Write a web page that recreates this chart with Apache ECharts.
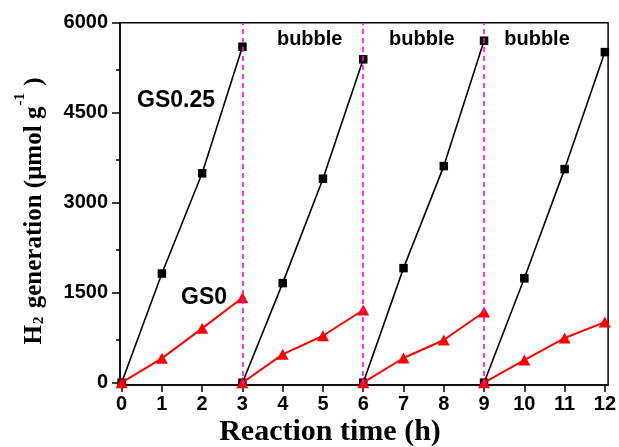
<!DOCTYPE html>
<html><head><meta charset="utf-8">
<script src="https://cdn.jsdelivr.net/npm/echarts@6/dist/echarts.min.js"></script>
<style>html,body{margin:0;padding:0;background:#fff}#c{width:619px;height:447px}</style>
</head><body><div id="c"></div>
<script>
const hourTicks = [0,1,2,3,4,5,6,7,8,9,10,11,12];
const cycleHours = [[0,1,2,3],[3,4,5,6],[6,7,8,9],[9,10,11,12]];
const gs025 = [[0,1820,3490,5600],[0,1660,3400,5390],[0,1910,3610,5700],[0,1740,3560,5510]];
const gs0 = [[0,406,906,1417],[0,473,783,1212],[0,412,712,1178],[0,378,745,1010]];
const bubbleTimes = [3,6,9];
const yTicks = [0,1500,3000,4500,6000];

const chart = echarts.init(document.getElementById('c'));
const series = [];
cycleHours.forEach((hs, i) => {
  series.push({
    type:'line', name:'GS0.25', data: hs.map((h,j)=>[h, gs025[i][j]]),
    symbol:'rect', symbolSize:8.5, itemStyle:{color:'#000'}, lineStyle:{color:'#000', width:1.6},
    z:2, animation:false
  });
});
cycleHours.forEach((hs, i) => {
  series.push({
    type:'line', name:'GS0', data: hs.map((h,j)=>[h, gs0[i][j]]),
    symbol:'triangle', symbolSize:[12,11], itemStyle:{color:'#ff0000'}, lineStyle:{color:'#ff0000', width:2},
    z:3, animation:false
  });
});
series.push({
  type:'line', data:[], z:4, animation:false,
  markLine:{symbol:'none', silent:true, label:{show:false},
    lineStyle:{color:'#ff00ff', type:[5,4], width:1.6},
    data: bubbleTimes.map(t=>({xAxis:t}))}
});

const tickFont = {fontFamily:'Liberation Sans, Arial', fontWeight:'bold', fontSize:20, color:'#000'};
chart.setOption({
  animation:false,
  grid:{left:120, right:7.3, top:22.7, bottom:62, show:true, borderColor:'#000', borderWidth:1.5, containLabel:false},
  xAxis:[{
    type:'value', min:-0.04, max:12.08,
    axisLine:{show:true, onZero:false, lineStyle:{color:'#000', width:1.5}},
    axisTick:{show:true, inside:false, length:7, customValues:hourTicks, lineStyle:{color:'#000', width:1.5}},
    axisLabel:{show:true, customValues:hourTicks, margin:9, formatter:v=>String(v), ...tickFont},
    splitLine:{show:false}
  }],
  yAxis:[{
    type:'value', min:-38, max:6000, interval:1500,
    axisLine:{show:true, onZero:false, lineStyle:{color:'#000', width:1.5}},
    axisTick:{show:true, length:8, customValues:yTicks, lineStyle:{color:'#000', width:1.5}},
    minorTick:{show:true, splitNumber:2, length:4, lineStyle:{color:'#000', width:1.5}},
    axisLabel:{show:true, customValues:yTicks, margin:12, formatter:v=>String(v), ...tickFont},
    splitLine:{show:false}, minorSplitLine:{show:false}
  }],
  series: series,
  graphic:[
    {type:'text', style:{text:'bubble', x:309.7, y:39, align:'center', verticalAlign:'middle', font:'bold 20px "Liberation Sans", Arial', fill:'#000'}},
    {type:'text', style:{text:'bubble', x:421.8, y:39, align:'center', verticalAlign:'middle', font:'bold 20px "Liberation Sans", Arial', fill:'#000'}},
    {type:'text', style:{text:'bubble', x:537, y:39, align:'center', verticalAlign:'middle', font:'bold 20px "Liberation Sans", Arial', fill:'#000'}},
    {type:'text', style:{text:'GS0.25', x:176, y:101, align:'center', verticalAlign:'middle', font:'bold 23px "Liberation Sans", Arial', fill:'#000'}},
    {type:'text', style:{text:'GS0', x:204, y:298, align:'center', verticalAlign:'middle', font:'bold 23px "Liberation Sans", Arial', fill:'#000'}},
    {type:'text', style:{text:'Reaction time (h)', x:330, y:432, align:'center', verticalAlign:'middle', font:'bold 30px "Liberation Serif", "Times New Roman", serif', fill:'#000'}},
    {type:'text', x:30, y:211, rotation:Math.PI/2,
     style:{text:'{b|H}{s|2}{b| generation (}{b|μmol g}{p|-1}{b| )}', align:'center', verticalAlign:'middle',
       rich:{
         b:{font:'bold 25px "Liberation Serif", "Times New Roman", serif', fill:'#000', verticalAlign:'bottom', lineHeight:28},
         s:{font:'bold 15px "Liberation Serif", "Times New Roman", serif', fill:'#000', verticalAlign:'bottom', lineHeight:22, padding:[0,2,0,1]},
         p:{font:'bold 15px "Liberation Serif", "Times New Roman", serif', fill:'#000', verticalAlign:'top', lineHeight:34, padding:[0,1,0,1]}
       }}}
  ]
});
</script></body></html>
